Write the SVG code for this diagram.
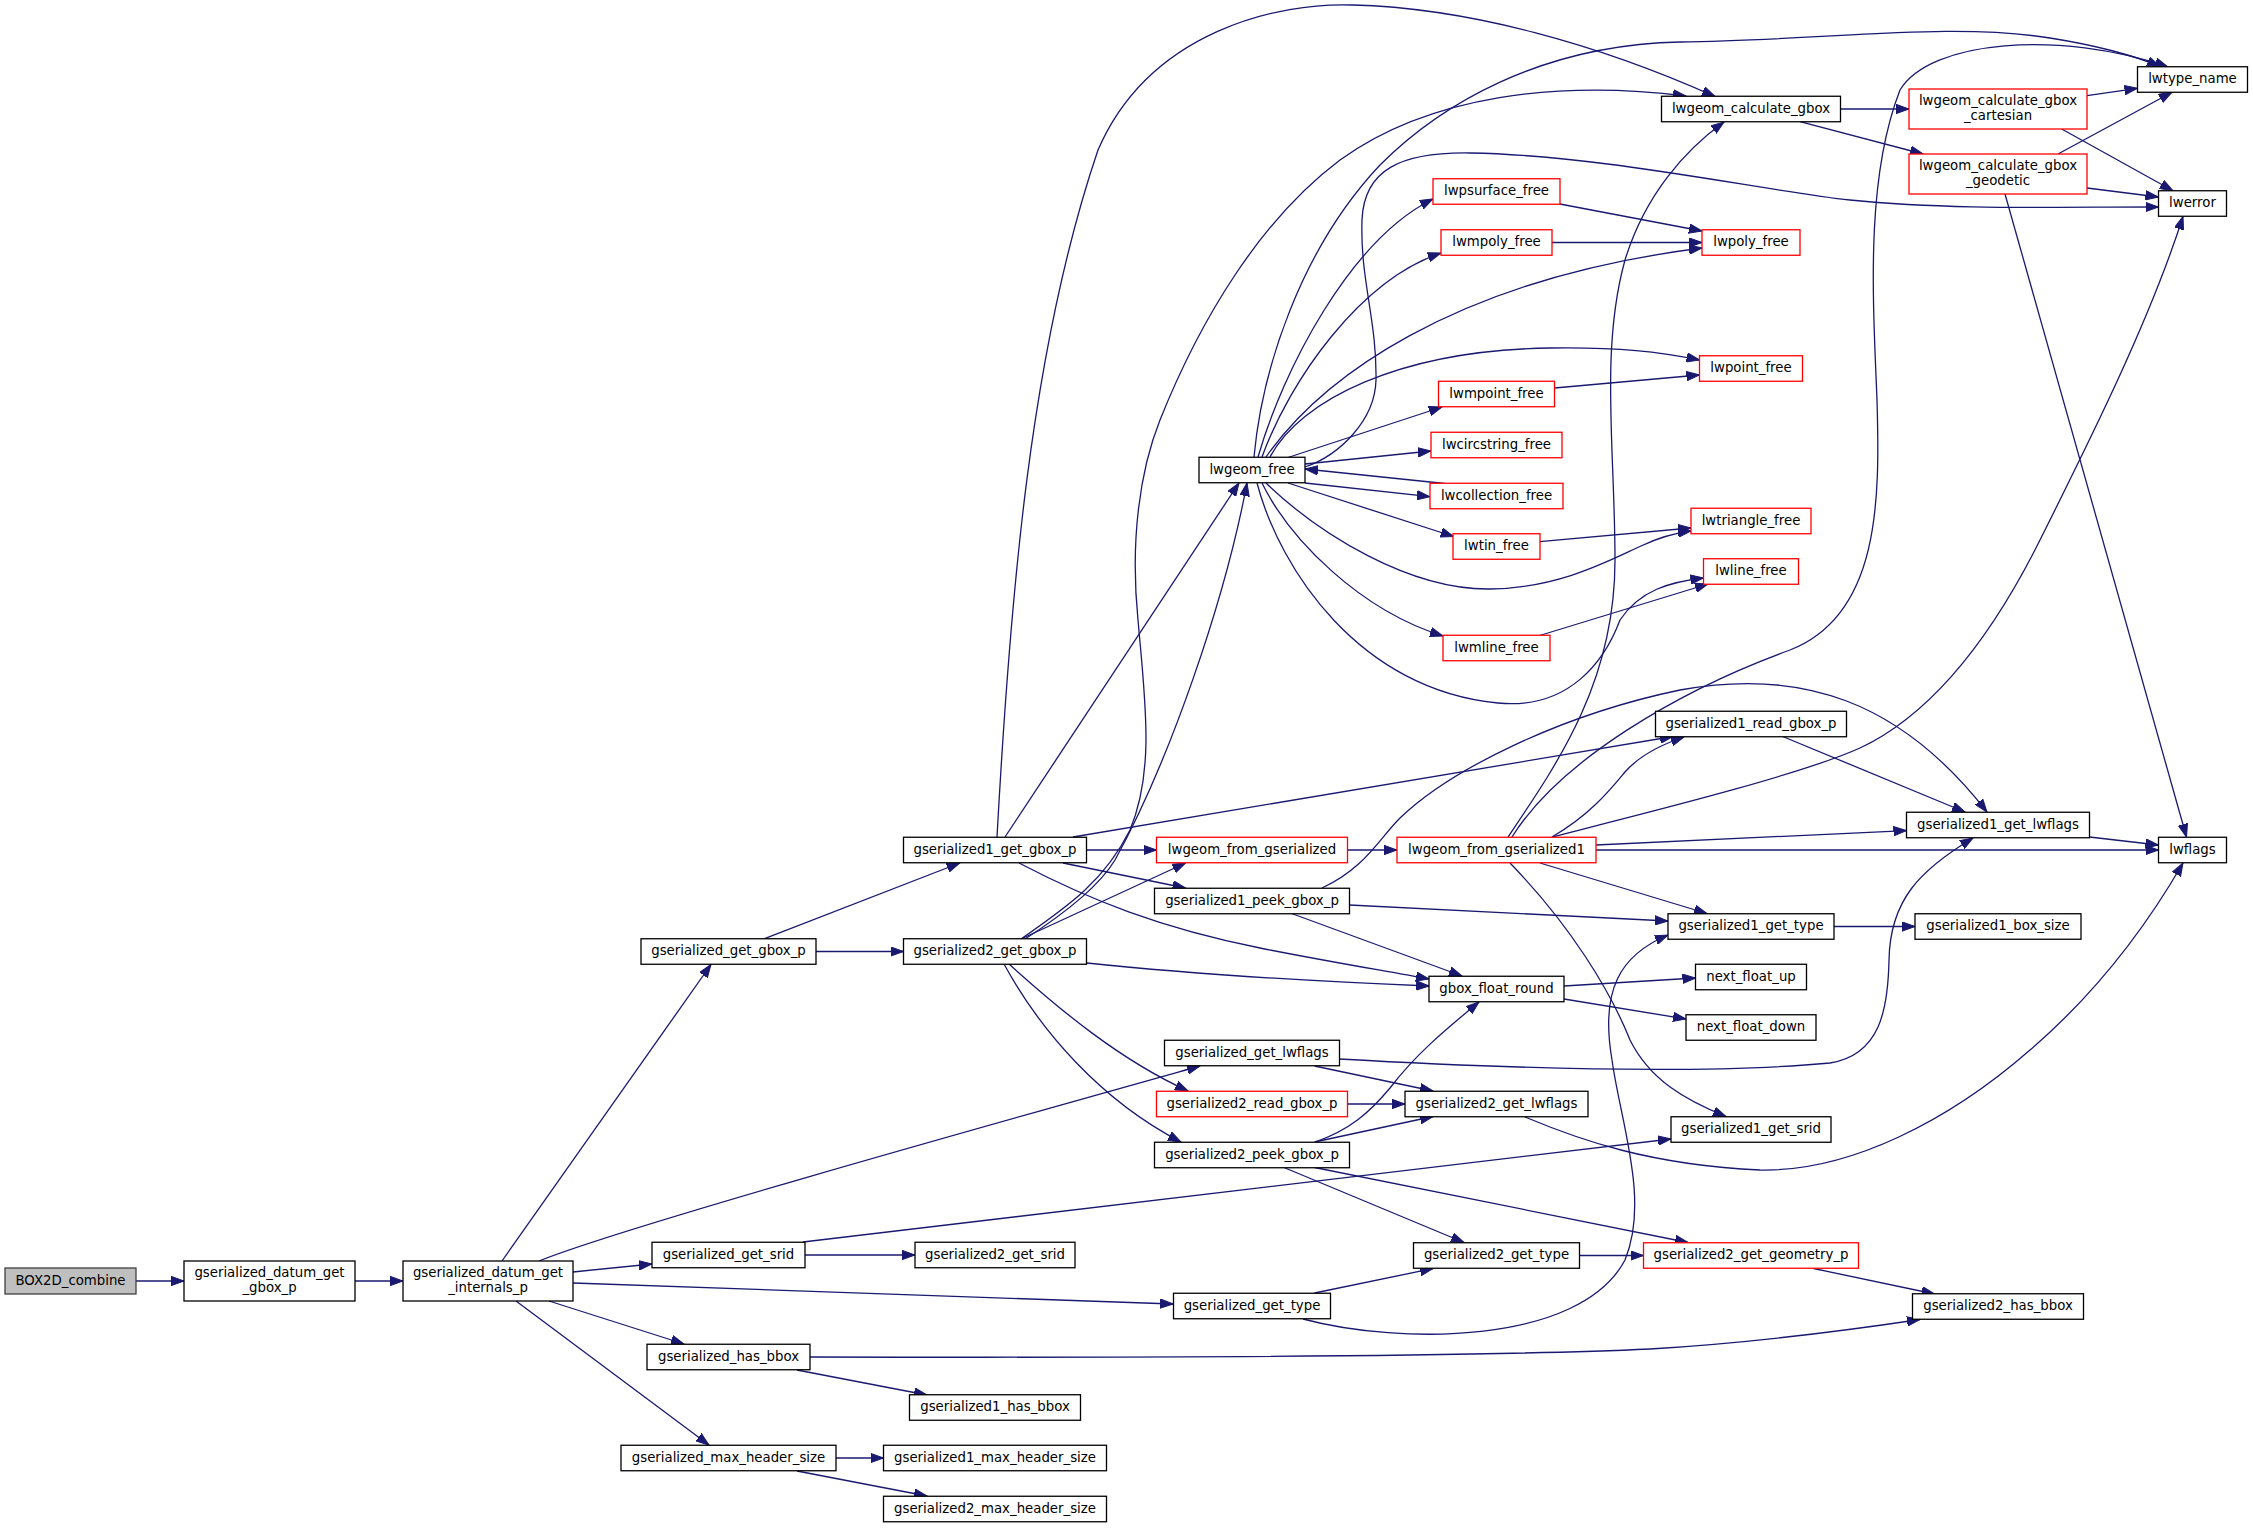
<svg xmlns="http://www.w3.org/2000/svg" width="2253" height="1528" viewBox="0 0 2253 1528">
<style>
.n rect{fill:#fff;stroke:#000;stroke-width:1.3}
.n.r rect{stroke:#ff0000}
.n.root rect{fill:#bfbfbf;stroke:#404040}
text{font-family:"DejaVu Sans","Liberation Sans",sans-serif;font-size:13.3px;text-anchor:middle;fill:#000}
#edges path{fill:none;stroke:#191970;stroke-width:1.3;marker-end:url(#a)}
</style>
<defs>
<marker id="a" markerUnits="userSpaceOnUse" markerWidth="14" markerHeight="10" refX="13" refY="5" orient="auto">
<path d="M0,0.3 L13,5 L0,9.7 z" fill="#191970" stroke="#191970" stroke-width="1"/>
</marker>
</defs>
<rect width="2253" height="1528" fill="#fff"/>
<g id="edges">
<path d="M136,1281 L184,1281"/>
<path d="M355,1281 L403,1281"/>
<path d="M502,1261 L711,964.5"/>
<path d="M539,1261 C620,1228 1000,1122 1200,1066"/>
<path d="M573,1272 L652,1264"/>
<path d="M573,1283 L1173,1304"/>
<path d="M549,1301 L684,1344"/>
<path d="M516,1301 L709,1445"/>
<path d="M764.6,938.7 L959.7,863"/>
<path d="M816,951.5 L903.5,951.5"/>
<path d="M997,837 C1010,600 1030,350 1098,150 C1150,30 1280,2 1353,5 C1470,8 1600,45 1715,96.5"/>
<path d="M1005,837 L1239,483"/>
<path d="M1086.5,850 L1156.5,850"/>
<path d="M1063,863 L1185.5,888"/>
<path d="M1073,837 L1673,736.5"/>
<path d="M1019,863 C1090,900 1160,928 1260,948 C1320,960 1380,970 1429,979"/>
<path d="M1021,939 C1070,905 1105,880 1130,830 C1155,770 1145,700 1138,620 C1130,540 1140,470 1160,420 C1200,320 1260,220 1340,160 C1430,95 1560,80 1686,96"/>
<path d="M1025,939 C1070,910 1100,885 1115,860 C1170,760 1225,600 1247,483"/>
<path d="M1021,939 L1185.5,863"/>
<path d="M1087,963 C1200,975 1330,982 1429,986"/>
<path d="M1009,964 C1060,1010 1120,1060 1188,1091"/>
<path d="M1004,964 C1040,1030 1100,1100 1181,1142"/>
<path d="M1339,1059 C1500,1068 1700,1075 1830,1063 C1880,1055 1888,1010 1889,960 C1890,900 1920,870 1973,838"/>
<path d="M1314.6,1066 L1433,1091"/>
<path d="M804.7,1255 L915,1255"/>
<path d="M803,1242 L1671,1139"/>
<path d="M1314.6,1293 L1433,1268.5"/>
<path d="M1303,1319 C1400,1345 1580,1345 1625,1260 C1650,1200 1620,1120 1612,1060 C1600,990 1620,955 1668,935"/>
<path d="M797,1370 L927,1395"/>
<path d="M810,1357 C1200,1358 1500,1356 1650,1349 C1750,1343 1850,1330 1920,1319.5"/>
<path d="M836,1458 L883.5,1458"/>
<path d="M797,1471 L927,1496"/>
<path d="M1347.5,850 L1397,850"/>
<path d="M1349.5,905 L1668,921"/>
<path d="M1291.6,913.5 L1462,976"/>
<path d="M1322,888 C1365,868 1378,840 1400,818 C1450,770 1560,715 1680,690 C1800,668 1900,700 1987,812"/>
<path d="M1347.5,1104 L1405,1104"/>
<path d="M1314.6,1142 L1433,1116.5"/>
<path d="M1315,1142 C1350,1130 1370,1112 1390,1088 C1415,1055 1445,1030 1479,1002"/>
<path d="M1284,1167.5 L1464,1242.5"/>
<path d="M1314.6,1167.5 L1688,1242.5"/>
<path d="M1254,457 C1262,370 1300,250 1380,165 C1440,105 1540,45 1680,42 C1830,40 1950,22 2050,38 C2100,46 2135,56 2160,66.5"/>
<path d="M1258,457 C1283,370 1350,240 1433,199"/>
<path d="M1262,457 C1290,380 1360,280 1441,253"/>
<path d="M1266,457 C1320,380 1450,280 1702,248"/>
<path d="M1270,457 C1300,400 1400,350 1550,348 C1620,347 1660,352 1699.5,360"/>
<path d="M1288,457.5 L1442,407"/>
<path d="M1305,464 L1431,451"/>
<path d="M1444.6,483.5 L1305,469"/>
<path d="M1305,483 L1430,496.7"/>
<path d="M1288,483 L1453.6,536.5"/>
<path d="M1266,483 C1320,535 1410,590 1490,589 C1560,588 1610,560 1641,546 C1660,537 1675,533 1691,531"/>
<path d="M1539.7,541.7 L1691,528"/>
<path d="M1262,483 C1290,540 1360,610 1443,636"/>
<path d="M1539.7,635.5 L1708,584"/>
<path d="M1257,483 C1280,570 1360,690 1498,703 C1570,710 1605,660 1620,620 C1640,590 1670,582 1703.5,578"/>
<path d="M1305,467 C1340,455 1375,420 1376,380 C1377,320 1360,280 1362,220 C1364,170 1400,152 1470,153 C1600,155 1760,190 1850,200 C1950,210 2050,207 2158.5,207"/>
<path d="M1559.8,204 L1702,231"/>
<path d="M1552,242.5 L1702,242.5"/>
<path d="M1554.5,388 L1699.5,375"/>
<path d="M1508,837 C1560,760 1615,680 1615,560 C1615,450 1600,350 1625,260 C1645,195 1685,150 1724,122"/>
<path d="M1512,837 C1560,760 1680,690 1790,650 C1880,615 1880,500 1877,400 C1873,300 1865,180 1900,90 C1930,40 2060,30 2168,67"/>
<path d="M1552,837 C1590,815 1610,790 1625,772 C1640,755 1660,745 1684,737"/>
<path d="M1552,837 C1650,812 1800,775 1860,748 C1930,715 1990,640 2040,540 C2090,440 2150,320 2183,216.5"/>
<path d="M1596,845 L1906.5,830.6"/>
<path d="M1596,850 L2158.5,850"/>
<path d="M1540,863 L1707,913.5"/>
<path d="M1510,863 C1570,925 1610,990 1630,1040 C1650,1080 1685,1100 1726,1116.5"/>
<path d="M1564,986 L1695.5,978"/>
<path d="M1564,999 L1686,1019"/>
<path d="M1525,1117 C1580,1140 1650,1165 1760,1170 C1850,1172 1950,1120 2030,1050 C2100,990 2150,920 2183,863"/>
<path d="M1579.5,1255.5 L1643.5,1255.5"/>
<path d="M1813.5,1268.5 L1934.6,1294"/>
<path d="M1782.7,736.5 L1965,812"/>
<path d="M2089.5,837 L2158.5,845"/>
<path d="M1834,926.5 L1915,926.5"/>
<path d="M1840.5,109 L1909,109"/>
<path d="M1800,121.7 L1923,154"/>
<path d="M2087,95.7 L2137.5,88.3"/>
<path d="M2061.7,129 L2173,190.7"/>
<path d="M2058,154 L2172,92.3"/>
<path d="M2087,188 L2158.5,197"/>
<path d="M2005,194 L2186.5,837"/>
</g>
<g id="n1" class="n root"><rect x="5" y="1268" width="131" height="26"/><text x="70.5" y="1285">BOX2D_combine</text></g>
<g id="n2" class="n"><rect x="184" y="1261" width="171" height="40"/><text x="269.5" y="1277">gserialized_datum_get</text><text x="269.5" y="1292">_gbox_p</text></g>
<g id="n3" class="n"><rect x="403" y="1261" width="170" height="40"/><text x="488" y="1277">gserialized_datum_get</text><text x="488" y="1292">_internals_p</text></g>
<g id="n4" class="n"><rect x="641" y="938.75" width="175" height="25.5"/><text x="728.5" y="955.3">gserialized_get_gbox_p</text></g>
<g id="n5" class="n"><rect x="652" y="1242.25" width="153" height="25.5"/><text x="728.5" y="1258.8">gserialized_get_srid</text></g>
<g id="n6" class="n"><rect x="647" y="1344.25" width="163" height="25.5"/><text x="728.5" y="1360.8">gserialized_has_bbox</text></g>
<g id="n7" class="n"><rect x="621" y="1445.25" width="215" height="25.5"/><text x="728.5" y="1461.8">gserialized_max_header_size</text></g>
<g id="n8" class="n"><rect x="903.5" y="837.25" width="183" height="25.5"/><text x="995" y="853.8">gserialized1_get_gbox_p</text></g>
<g id="n9" class="n"><rect x="903.5" y="938.75" width="183" height="25.5"/><text x="995" y="955.3">gserialized2_get_gbox_p</text></g>
<g id="n10" class="n"><rect x="915" y="1242.25" width="160" height="25.5"/><text x="995" y="1258.8">gserialized2_get_srid</text></g>
<g id="n11" class="n"><rect x="909.5" y="1394.75" width="171" height="25.5"/><text x="995" y="1411.3">gserialized1_has_bbox</text></g>
<g id="n12" class="n"><rect x="883.5" y="1445.25" width="223" height="25.5"/><text x="995" y="1461.8">gserialized1_max_header_size</text></g>
<g id="n13" class="n"><rect x="883.5" y="1496.25" width="223" height="25.5"/><text x="995" y="1512.8">gserialized2_max_header_size</text></g>
<g id="n14" class="n"><rect x="1199" y="457.25" width="106" height="25.5"/><text x="1252" y="473.8">lwgeom_free</text></g>
<g id="n15" class="n r"><rect x="1156.5" y="837.25" width="191" height="25.5"/><text x="1252" y="853.8">lwgeom_from_gserialized</text></g>
<g id="n16" class="n"><rect x="1154.5" y="888.25" width="195" height="25.5"/><text x="1252" y="904.8">gserialized1_peek_gbox_p</text></g>
<g id="n17" class="n"><rect x="1164.5" y="1040.25" width="175" height="25.5"/><text x="1252" y="1056.8">gserialized_get_lwflags</text></g>
<g id="n18" class="n r"><rect x="1156.5" y="1091.25" width="191" height="25.5"/><text x="1252" y="1107.8">gserialized2_read_gbox_p</text></g>
<g id="n19" class="n"><rect x="1154.5" y="1142.25" width="195" height="25.5"/><text x="1252" y="1158.8">gserialized2_peek_gbox_p</text></g>
<g id="n20" class="n"><rect x="1173.5" y="1293.25" width="157" height="25.5"/><text x="1252" y="1309.8">gserialized_get_type</text></g>
<g id="n21" class="n r"><rect x="1433" y="178.75" width="127" height="25.5"/><text x="1496.5" y="195.3">lwpsurface_free</text></g>
<g id="n22" class="n r"><rect x="1441" y="229.75" width="111" height="25.5"/><text x="1496.5" y="246.3">lwmpoly_free</text></g>
<g id="n23" class="n r"><rect x="1438.5" y="381.25" width="116" height="25.5"/><text x="1496.5" y="397.8">lwmpoint_free</text></g>
<g id="n24" class="n r"><rect x="1431" y="432.25" width="131" height="25.5"/><text x="1496.5" y="448.8">lwcircstring_free</text></g>
<g id="n25" class="n r"><rect x="1430" y="483.25" width="133" height="25.5"/><text x="1496.5" y="499.8">lwcollection_free</text></g>
<g id="n26" class="n r"><rect x="1453" y="533.75" width="87" height="25.5"/><text x="1496.5" y="550.3">lwtin_free</text></g>
<g id="n27" class="n r"><rect x="1443" y="635.25" width="107" height="25.5"/><text x="1496.5" y="651.8">lwmline_free</text></g>
<g id="n28" class="n r"><rect x="1397" y="837.25" width="199" height="25.5"/><text x="1496.5" y="853.8">lwgeom_from_gserialized1</text></g>
<g id="n29" class="n"><rect x="1429" y="976.25" width="135" height="25.5"/><text x="1496.5" y="992.8">gbox_float_round</text></g>
<g id="n30" class="n"><rect x="1405" y="1091.25" width="183" height="25.5"/><text x="1496.5" y="1107.8">gserialized2_get_lwflags</text></g>
<g id="n31" class="n"><rect x="1413.5" y="1242.75" width="166" height="25.5"/><text x="1496.5" y="1259.3">gserialized2_get_type</text></g>
<g id="n32" class="n"><rect x="1661.5" y="96.25" width="179" height="25.5"/><text x="1751" y="112.8">lwgeom_calculate_gbox</text></g>
<g id="n33" class="n r"><rect x="1702" y="229.75" width="98" height="25.5"/><text x="1751" y="246.3">lwpoly_free</text></g>
<g id="n34" class="n r"><rect x="1699.5" y="355.75" width="103" height="25.5"/><text x="1751" y="372.3">lwpoint_free</text></g>
<g id="n35" class="n r"><rect x="1691" y="508.25" width="120" height="25.5"/><text x="1751" y="524.8">lwtriangle_free</text></g>
<g id="n36" class="n r"><rect x="1703.5" y="558.75" width="95" height="25.5"/><text x="1751" y="575.3">lwline_free</text></g>
<g id="n37" class="n"><rect x="1655.5" y="711.25" width="191" height="25.5"/><text x="1751" y="727.8">gserialized1_read_gbox_p</text></g>
<g id="n38" class="n"><rect x="1668" y="913.75" width="166" height="25.5"/><text x="1751" y="930.3">gserialized1_get_type</text></g>
<g id="n39" class="n"><rect x="1695.5" y="964.25" width="111" height="25.5"/><text x="1751" y="980.8">next_float_up</text></g>
<g id="n40" class="n"><rect x="1686" y="1014.75" width="130" height="25.5"/><text x="1751" y="1031.3">next_float_down</text></g>
<g id="n41" class="n"><rect x="1671" y="1116.75" width="160" height="25.5"/><text x="1751" y="1133.3">gserialized1_get_srid</text></g>
<g id="n42" class="n r"><rect x="1643.5" y="1242.75" width="215" height="25.5"/><text x="1751" y="1259.3">gserialized2_get_geometry_p</text></g>
<g id="n43" class="n r"><rect x="1909" y="89" width="178" height="40"/><text x="1998" y="105">lwgeom_calculate_gbox</text><text x="1998" y="120">_cartesian</text></g>
<g id="n44" class="n r"><rect x="1909" y="154" width="178" height="40"/><text x="1998" y="170">lwgeom_calculate_gbox</text><text x="1998" y="185">_geodetic</text></g>
<g id="n45" class="n"><rect x="1906.5" y="812.25" width="183" height="25.5"/><text x="1998" y="828.8">gserialized1_get_lwflags</text></g>
<g id="n46" class="n"><rect x="1915" y="913.75" width="166" height="25.5"/><text x="1998" y="930.3">gserialized1_box_size</text></g>
<g id="n47" class="n"><rect x="1912.5" y="1293.75" width="171" height="25.5"/><text x="1998" y="1310.3">gserialized2_has_bbox</text></g>
<g id="n48" class="n"><rect x="2137.5" y="66.75" width="110" height="25.5"/><text x="2192.5" y="83.3">lwtype_name</text></g>
<g id="n49" class="n"><rect x="2158.5" y="190.75" width="68" height="25.5"/><text x="2192.5" y="207.3">lwerror</text></g>
<g id="n50" class="n"><rect x="2158.5" y="837.25" width="68" height="25.5"/><text x="2192.5" y="853.8">lwflags</text></g>
</svg>
